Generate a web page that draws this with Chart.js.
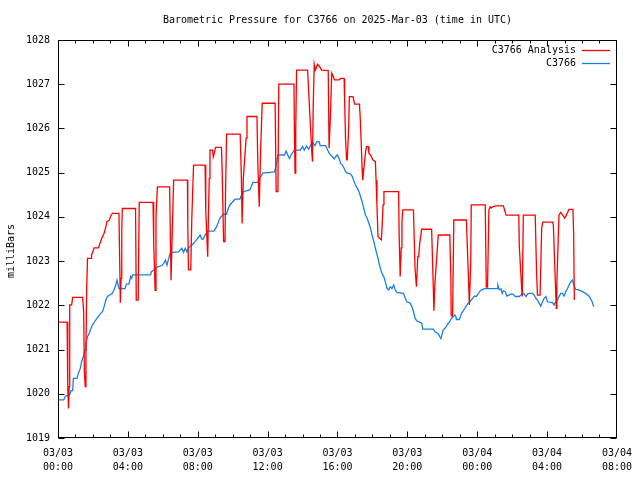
<!DOCTYPE html>
<html>
<head>
<meta charset="utf-8">
<script src="https://cdn.jsdelivr.net/npm/chart.js@4/dist/chart.umd.min.js"></script>
<style>
  html, body { margin: 0; background: #fff; }
</style>
</head>
<body>
<canvas id="chart" width="640" height="480"></canvas>
<script>
// texts
const chartTitle = 'Barometric Pressure for C3766 on 2025-Mar-03 (time in UTC)';
const yTitle = 'milliBars';
const seriesNames = ['C3766 Analysis', 'C3766'];

// x axis: hours since 03/03 00:00 UTC, labelled every 4 h
const xTickDays  = ['03/03', '03/03', '03/03', '03/03', '03/03', '03/03', '03/04', '03/04', '03/04'];
const xTickTimes = ['00:00', '04:00', '08:00', '12:00', '16:00', '20:00', '00:00', '04:00', '08:00'];
const yTicks = [1019, 1020, 1021, 1022, 1023, 1024, 1025, 1026, 1027, 1028];

// C3766 Analysis (red)
const analysisHours = [
  0.00, 0.52, 0.56, 0.60, 0.64, 0.67, 0.78, 0.84, 1.41, 1.47, 1.51, 1.56, 1.60, 1.64, 1.69, 1.89,
  1.92, 2.07, 2.32, 2.40, 2.51, 2.64, 2.74, 2.80, 2.93, 3.02, 3.11, 3.49, 3.53, 3.57, 3.61, 3.65,
  3.68, 4.44, 4.48, 4.59, 4.65, 5.44, 5.48, 5.56, 5.61, 5.69, 6.39, 6.47, 6.52, 6.62, 7.41, 7.43,
  7.47, 7.60, 7.66, 7.76, 8.42, 8.46, 8.57, 8.61, 8.66, 8.70, 8.85, 8.89, 8.95, 9.02, 9.36, 9.40,
  9.48, 9.56, 9.59, 9.65, 10.43, 10.50, 10.54, 10.61, 10.77, 10.82, 11.39, 11.44, 11.52, 11.60,
  11.69, 12.43, 12.49, 12.59, 12.64, 13.51, 13.53, 13.57, 13.61, 13.66, 14.29, 14.42, 14.53, 14.57,
  14.61, 14.67, 14.73, 14.78, 14.86, 14.99, 15.09, 15.47, 15.52, 15.61, 15.67, 15.75, 15.82, 16.09,
  16.18, 16.38, 16.41, 16.46, 16.52, 16.56, 16.64, 16.68, 16.89, 16.98, 17.26, 17.30, 17.36, 17.41,
  17.45, 17.51, 17.60, 17.66, 17.76, 17.80, 17.89, 18.02, 18.17, 18.21, 18.26, 18.32, 18.51, 18.55,
  18.61, 18.66, 19.50, 19.53, 19.59, 19.65, 19.69, 19.74, 20.35, 20.44, 20.52, 20.60, 20.65, 20.71,
  20.82, 21.39, 21.49, 21.52, 21.58, 21.71, 21.77, 22.43, 22.49, 22.51, 22.59, 22.66, 23.38, 23.51,
  23.55, 23.63, 23.66, 24.46, 24.52, 24.59, 24.67, 24.74, 24.80, 24.90, 25.09, 25.50, 25.58, 25.65,
  26.38, 26.41, 26.47, 26.55, 26.58, 26.64, 27.32, 27.40, 27.45, 27.60, 27.69, 27.75, 28.31, 28.36,
  28.46, 28.53, 28.56, 28.68, 28.78, 28.93, 29.01, 29.12, 29.25, 29.48, 29.52, 29.56
];
const analysisValues = [
  1021.62, 1021.62, 1020.16, 1019.67, 1020.16, 1022.01, 1022.01, 1022.18, 1022.18, 1021.86, 1020.50, 1020.16, 1020.91, 1022.35, 1023.06, 1023.06,
  1023.14, 1023.30, 1023.30, 1023.40, 1023.52, 1023.63, 1023.78, 1023.89, 1023.92, 1024.02, 1024.08, 1024.08, 1023.06, 1022.06, 1022.61, 1023.67,
  1024.19, 1024.19, 1022.12, 1022.12, 1024.33, 1024.33, 1023.40, 1022.34, 1024.00, 1024.68, 1024.68, 1022.57, 1022.57, 1024.83, 1024.83, 1023.82,
  1022.80, 1022.80, 1023.97, 1025.17, 1025.17, 1024.12, 1023.10, 1024.00, 1024.87, 1025.51, 1025.51, 1025.36, 1025.45, 1025.57, 1025.57, 1025.02,
  1023.44, 1023.44, 1024.50, 1025.87, 1025.87, 1024.87, 1023.85, 1024.87, 1025.78, 1026.27, 1026.27, 1025.20, 1024.23, 1025.50,
  1026.57, 1026.57, 1024.57, 1024.57, 1027.00, 1027.00, 1026.08, 1024.99, 1026.00, 1027.32, 1027.32, 1026.30, 1025.47, 1025.25,
  1026.50, 1027.45, 1027.32, 1027.36, 1027.45, 1027.39, 1027.32, 1027.31, 1025.55, 1026.42, 1027.25, 1027.18, 1027.10, 1027.10,
  1027.13, 1027.13, 1026.64, 1025.78, 1025.29, 1025.29, 1026.00, 1026.72, 1026.72, 1026.55, 1026.55, 1026.26, 1025.66, 1025.10,
  1024.83, 1025.10, 1025.44, 1025.59, 1025.59, 1025.44, 1025.40, 1025.29, 1025.25, 1024.83, 1024.27, 1023.55, 1023.48, 1023.74,
  1024.27, 1024.57, 1024.57, 1023.60, 1022.65, 1023.30, 1023.89, 1024.16, 1024.16, 1022.84, 1022.42, 1023.10, 1023.10, 1023.40,
  1023.72, 1023.72, 1022.35, 1021.88, 1022.50, 1023.25, 1023.59, 1023.59, 1022.65, 1021.76, 1021.76, 1023.93, 1023.93, 1022.50,
  1022.01, 1023.00, 1024.27, 1024.27, 1022.41, 1022.41, 1024.16, 1024.23, 1024.20, 1024.23, 1024.25, 1024.25, 1024.14, 1024.04,
  1024.04, 1023.33, 1022.91, 1022.35, 1022.20, 1024.04, 1024.04, 1022.72, 1022.23, 1022.23, 1023.74, 1023.88, 1023.88, 1023.82,
  1022.65, 1021.93, 1022.50, 1024.04, 1024.10, 1024.02, 1023.97, 1024.05, 1024.17, 1024.17, 1023.63, 1022.12
];

// C3766 observed (blue)
const stationHours = [
  0.00, 0.33, 0.43, 0.65, 0.75, 0.84, 0.88, 1.09, 1.16, 1.28, 1.35, 1.45, 1.55, 1.60, 1.69, 1.79,
  1.89, 2.02, 2.17, 2.36, 2.55, 2.64, 2.74, 2.83, 3.11, 3.21, 3.31, 3.38, 3.49, 3.84, 3.91, 4.06,
  4.16, 4.22, 4.27, 5.30, 5.35, 5.48, 5.58, 5.71, 5.95, 6.05, 6.15, 6.24, 6.34, 6.43, 6.90, 7.09,
  7.19, 7.28, 7.38, 7.47, 7.66, 7.85, 8.00, 8.14, 8.23, 8.32, 8.42, 8.57, 8.93, 9.08, 9.27, 9.46,
  9.65, 9.74, 9.84, 10.13, 10.41, 10.50, 10.60, 10.98, 11.16, 11.45, 11.55, 11.73, 12.40, 12.49,
  12.59, 12.97, 13.06, 13.15, 13.25, 13.34, 13.53, 13.87, 14.00, 14.10, 14.23, 14.35, 14.48, 14.57,
  14.71, 14.82, 14.95, 15.01, 15.33, 15.43, 15.52, 15.61, 15.71, 15.81, 15.90, 15.99, 16.09, 16.18,
  16.28, 16.38, 16.47, 16.56, 16.75, 16.85, 16.94, 17.03, 17.13, 17.23, 17.32, 17.41, 17.51, 17.60,
  17.70, 17.80, 17.89, 17.98, 18.08, 18.17, 18.27, 18.36, 18.45, 18.55, 18.65, 18.74, 18.84, 18.93,
  19.02, 19.12, 19.22, 19.31, 19.40, 19.78, 19.88, 19.97, 20.16, 20.26, 20.35, 20.44, 20.54, 20.63,
  20.82, 20.88, 21.49, 21.58, 21.77, 21.86, 21.92, 21.99, 22.05, 22.15, 22.24, 22.34, 22.43, 22.53,
  22.63, 22.72, 22.77, 22.81, 22.97, 23.04, 23.10, 23.19, 23.29, 23.38, 23.48, 23.57, 23.66, 23.76,
  23.85, 23.95, 24.05, 24.14, 24.24, 24.43, 25.14, 25.18, 25.27, 25.37, 25.43, 25.50, 25.61, 25.69,
  25.81, 25.94, 26.07, 26.18, 26.41, 26.60, 26.69, 26.79, 26.89, 26.98, 27.17, 27.26, 27.36, 27.45,
  27.55, 27.64, 27.74, 27.83, 27.93, 28.02, 28.31, 28.40, 28.49, 28.59, 28.68, 28.78, 28.88, 28.97,
  29.07, 29.17, 29.26, 29.36, 29.45, 29.54, 29.64, 29.83, 30.02, 30.20, 30.39, 30.48, 30.58, 30.67
];
const stationValues = [
  1019.86, 1019.86, 1019.95, 1019.97, 1020.07, 1020.07, 1020.35, 1020.35, 1020.46, 1020.58, 1020.73, 1020.84, 1020.99, 1021.14, 1021.29, 1021.37,
  1021.48, 1021.59, 1021.67, 1021.78, 1021.86, 1021.97, 1022.12, 1022.20, 1022.27, 1022.35, 1022.46, 1022.57, 1022.38, 1022.38, 1022.48, 1022.48,
  1022.65, 1022.61, 1022.69, 1022.69, 1022.76, 1022.80, 1022.84, 1022.87, 1022.90, 1022.95, 1023.02, 1022.91, 1023.06, 1023.19, 1023.21, 1023.29,
  1023.20, 1023.29, 1023.21, 1023.30, 1023.36, 1023.44, 1023.52, 1023.59, 1023.50, 1023.50, 1023.59, 1023.68, 1023.68, 1023.78, 1023.97, 1024.06,
  1024.06, 1024.19, 1024.27, 1024.40, 1024.40, 1024.49, 1024.57, 1024.61, 1024.78, 1024.78, 1024.87, 1024.99, 1025.02, 1025.17,
  1025.40, 1025.40, 1025.49, 1025.40, 1025.32, 1025.40, 1025.51, 1025.51, 1025.59, 1025.51, 1025.60, 1025.53, 1025.63, 1025.69,
  1025.61, 1025.70, 1025.70, 1025.61, 1025.61, 1025.52, 1025.44, 1025.40, 1025.36, 1025.31, 1025.36, 1025.40, 1025.33, 1025.21,
  1025.17, 1025.10, 1025.02, 1024.99, 1024.97, 1024.91, 1024.81, 1024.72, 1024.65, 1024.57, 1024.46, 1024.34, 1024.19, 1024.04,
  1023.97, 1023.85, 1023.74, 1023.59, 1023.44, 1023.29, 1023.14, 1022.99, 1022.84, 1022.72, 1022.65, 1022.53, 1022.38, 1022.35,
  1022.42, 1022.38, 1022.46, 1022.35, 1022.29, 1022.27, 1022.16, 1022.08, 1022.05, 1021.97, 1021.86, 1021.71, 1021.65, 1021.63,
  1021.60, 1021.46, 1021.46, 1021.40, 1021.36, 1021.29, 1021.25, 1021.35, 1021.44, 1021.48, 1021.53, 1021.59, 1021.63, 1021.71,
  1021.74, 1021.78, 1021.76, 1021.68, 1021.68, 1021.74, 1021.82, 1021.87, 1021.93, 1021.99, 1022.05, 1022.08, 1022.12, 1022.17,
  1022.21, 1022.20, 1022.26, 1022.31, 1022.35, 1022.38, 1022.38, 1022.46, 1022.35, 1022.37, 1022.27, 1022.33, 1022.31, 1022.21,
  1022.23, 1022.26, 1022.25, 1022.20, 1022.20, 1022.27, 1022.26, 1022.20, 1022.26, 1022.27, 1022.27, 1022.23, 1022.16, 1022.12,
  1022.05, 1021.98, 1022.08, 1022.16, 1022.20, 1022.08, 1022.06, 1022.01, 1022.08, 1022.12, 1022.20, 1022.27, 1022.27, 1022.21,
  1022.31, 1022.38, 1022.46, 1022.53, 1022.57, 1022.46, 1022.36, 1022.35, 1022.31, 1022.27, 1022.21, 1022.16, 1022.08, 1021.97
];

const RED = '#ff0000';
const BLUE = '#1a80e6';
const FONT = '10px "DejaVu Sans Mono", "Liberation Mono", monospace';

const pts = (xs, ys) => xs.map((h, i) => ({ x: h, y: ys[i] }));

// gnuplot look: frame, inward ticks, title, rotated y label, legend at top right
const gnuplotFrame = {
  id: 'gnuplotFrame',
  afterDraw(chart) {
    const { ctx, chartArea: a, scales: { x, y } } = chart;
    const L = Math.round(a.left) + 0.5, R = Math.round(a.right) - 0.5;
    const T = Math.round(a.top) + 0.5, B = Math.round(a.bottom) - 0.5;
    ctx.save();
    ctx.strokeStyle = '#000';
    ctx.lineWidth = 1;
    ctx.strokeRect(L, T, R - L, B - T);
    ctx.beginPath();
    yTicks.forEach(v => {
      const py = Math.round(y.getPixelForValue(v)) + 0.5;
      ctx.moveTo(L, py); ctx.lineTo(L + 6, py);
      ctx.moveTo(R, py); ctx.lineTo(R - 6, py);
    });
    for (let h = 1; h < 32; h++) {
      const px = Math.round(x.getPixelForValue(h)) + 0.5;
      const len = h % 4 === 0 ? 6 : 3;
      ctx.moveTo(px, B); ctx.lineTo(px, B - len);
      ctx.moveTo(px, T); ctx.lineTo(px, T + len);
    }
    ctx.stroke();

    ctx.fillStyle = '#000';
    ctx.font = FONT;
    ctx.textBaseline = 'middle';
    ctx.textAlign = 'center';
    ctx.fillText(chartTitle, (a.left + a.right) / 2, 20);

    ctx.save();
    ctx.translate(11, (a.top + a.bottom) / 2 + 12);
    ctx.rotate(-Math.PI / 2);
    ctx.fillText(yTitle, 0, 0);
    ctx.restore();

    ctx.textAlign = 'right';
    chart.data.datasets.forEach((ds, i) => {
      const ly = 50 + i * 13;
      ctx.fillStyle = '#000';
      ctx.fillText(ds.label, 576, ly);
      ctx.strokeStyle = ds.borderColor;
      ctx.lineWidth = 1.3;
      ctx.beginPath();
      ctx.moveTo(582, ly + 0.5); ctx.lineTo(610, ly + 0.5);
      ctx.stroke();
    });
    ctx.restore();
  }
};

new Chart(document.getElementById('chart'), {
  type: 'scatter',
  data: {
    datasets: [
      { label: seriesNames[0], data: pts(analysisHours, analysisValues), borderColor: RED, backgroundColor: RED,
        showLine: true, borderWidth: 1.3, pointRadius: 0, tension: 0 },
      { label: seriesNames[1], data: pts(stationHours, stationValues), borderColor: BLUE, backgroundColor: BLUE,
        showLine: true, borderWidth: 1.3, pointRadius: 0, tension: 0 }
    ]
  },
  options: {
    responsive: false,
    animation: false,
    layout: { padding: { top: 40, right: 19, left: 0, bottom: 0 } },
    plugins: { legend: { display: false }, title: { display: false }, tooltip: { enabled: false } },
    scales: {
      x: {
        type: 'linear', min: 0, max: 32,
        grid: { display: false, drawTicks: false },
        border: { display: false },
        afterFit: s => { s.height = 42; },
        afterBuildTicks: s => { s.ticks = xTickTimes.map((t, i) => ({ value: i * 4 })); },
        ticks: {
          padding: 8, maxRotation: 0, autoSkip: false, color: '#000',
          font: { family: '"DejaVu Sans Mono", "Liberation Mono", monospace', size: 10, lineHeight: 1.4 },
          callback: (v) => [xTickDays[v / 4], xTickTimes[v / 4]]
        }
      },
      y: {
        min: 1019, max: 1028,
        grid: { display: false, drawTicks: false },
        border: { display: false },
        afterFit: s => { s.width = 58; },
        afterBuildTicks: s => { s.ticks = yTicks.map(v => ({ value: v })); },
        ticks: {
          padding: 8, color: '#000',
          font: { family: '"DejaVu Sans Mono", "Liberation Mono", monospace', size: 10 },
          callback: v => String(v)
        }
      }
    }
  },
  plugins: [gnuplotFrame]
});
</script>
</body>
</html>
